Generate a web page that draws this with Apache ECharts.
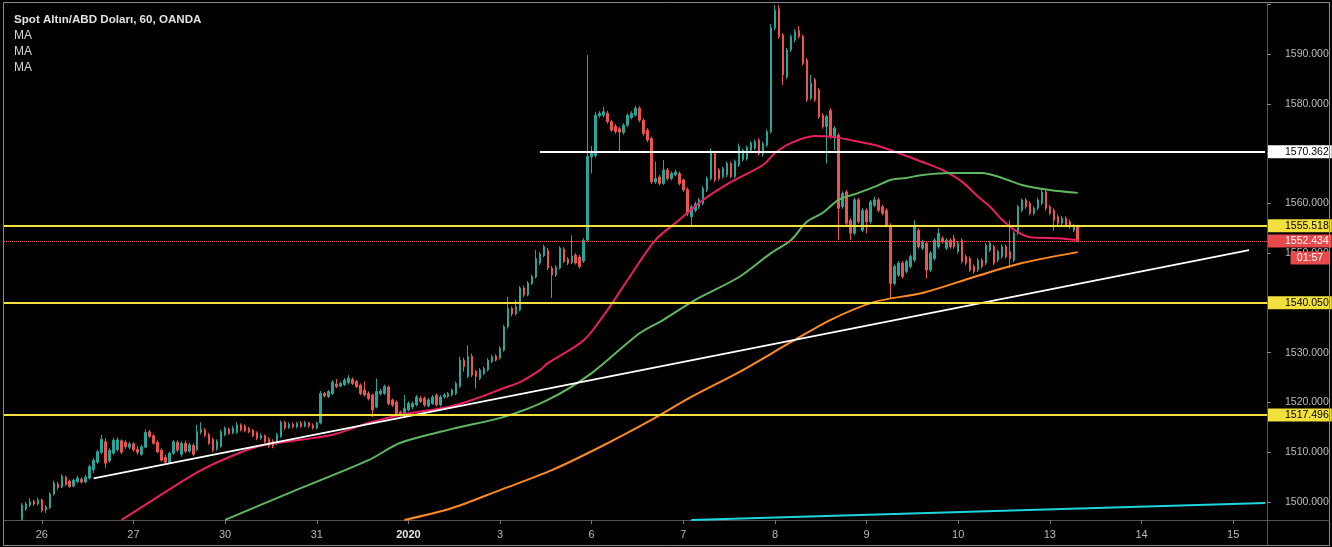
<!DOCTYPE html>
<html>
<head>
<meta charset="utf-8">
<script src="https://cdn.jsdelivr.net/npm/echarts@6/dist/echarts.min.js"></script>
<style>
html,body{margin:0;padding:0;background:#000;}
#chart{width:1332px;height:547px;}
</style>
</head>
<body>
<div id="chart"></div>
<script>
// ---- DATA ----
const SLOT_COUNT = 317;            // hourly slots on the time axis
const FIRST_CANDLE_SLOT = 4;
const DAY_LABELS = ['26','27','30','31','2020','3','6','7','8','9','10','13','14','15'];
const DAY_START_SLOTS = [9,32,55,78,101,124,147,170,193,216,239,262,285,308];

// [open, close, low, high]
const candles = [
[1496.5,1499.4,1496.3,1499.8],[1498.6,1499.6,1498.2,1500.0],[1499.4,1500.1,1499.0,1500.8],[1500.1,1499.6,1499.2,1500.5],
[1499.6,1500.4,1499.3,1500.9],[1500.4,1498.3,1497.9,1500.7],[1498.4,1499.0,1497.8,1499.4],[1498.9,1501.6,1498.6,1502.0],
[1501.6,1503.8,1501.3,1504.3],[1503.6,1502.9,1502.5,1504.0],[1503.0,1505.2,1502.8,1505.6],[1505.0,1503.5,1503.2,1505.3],
[1504.2,1503.1,1502.8,1504.5],[1503.2,1504.4,1503.0,1504.7],[1504.1,1504.8,1503.8,1505.3],[1504.6,1504.0,1503.7,1505.0],
[1504.0,1505.0,1503.8,1505.4],[1504.8,1507.1,1504.5,1507.5],[1506.5,1508.4,1505.8,1508.8],[1508.0,1510.1,1507.6,1510.5],
[1510.0,1512.6,1509.6,1513.5],[1512.1,1507.8,1506.8,1512.8],[1508.3,1510.4,1507.9,1510.8],[1509.8,1512.4,1509.5,1512.9],
[1510.5,1512.5,1510.2,1513.0],[1512.3,1510.0,1509.6,1512.6],[1512.0,1511.1,1510.7,1512.4],[1511.0,1511.7,1510.6,1512.1],
[1511.7,1510.5,1510.1,1512.0],[1510.6,1510.0,1509.5,1511.3],[1509.6,1511.1,1509.2,1511.5],[1511.0,1514.0,1510.8,1514.6],
[1514.1,1513.2,1512.9,1514.5],[1513.3,1511.8,1511.5,1513.6],[1512.0,1510.1,1509.8,1512.4],[1510.4,1508.4,1508.1,1510.8],
[1509.0,1508.0,1507.5,1509.5],[1508.0,1509.8,1507.7,1510.1],[1509.8,1512.1,1509.5,1512.5],[1512.0,1510.4,1510.0,1512.4],
[1509.6,1511.8,1509.1,1512.2],[1511.8,1510.2,1509.8,1512.3],[1510.2,1511.5,1509.9,1511.9],[1511.4,1509.6,1509.2,1511.8],
[1510.5,1514.1,1510.2,1515.5],[1514.0,1514.6,1513.6,1516.0],[1514.5,1513.4,1513.0,1514.9],[1513.5,1511.8,1511.5,1513.9],
[1512.6,1510.4,1510.0,1512.9],[1510.7,1512.2,1510.3,1512.6],[1511.2,1514.1,1510.9,1514.5],[1513.5,1514.8,1513.2,1515.2],
[1514.6,1513.8,1513.5,1515.0],[1513.9,1514.8,1513.6,1515.3],[1514.0,1515.5,1513.7,1516.0],[1515.5,1514.5,1514.2,1515.8],
[1515.2,1514.3,1514.0,1515.6],[1514.8,1514.1,1513.8,1515.1],[1514.4,1513.3,1513.0,1514.7],[1513.9,1512.8,1512.4,1514.2],
[1512.8,1513.4,1512.5,1513.8],[1513.3,1512.1,1511.8,1513.6],[1512.6,1511.3,1510.9,1513.0],[1512.2,1511.2,1510.8,1512.6],
[1511.8,1513.5,1511.4,1513.9],[1513.2,1516.0,1512.9,1516.4],[1516.0,1514.9,1514.5,1516.3],[1515.0,1515.6,1514.7,1516.0],
[1515.6,1515.1,1514.8,1516.0],[1515.1,1515.8,1514.8,1516.1],[1515.8,1515.2,1514.9,1516.2],[1515.2,1515.9,1515.0,1516.3],
[1515.9,1515.3,1514.9,1516.1],[1515.4,1514.9,1514.6,1515.8],[1514.9,1515.9,1514.6,1516.2],[1515.9,1521.8,1515.6,1522.3],
[1521.8,1521.3,1521.0,1522.1],[1521.2,1522.2,1520.9,1522.5],[1521.8,1524.1,1521.5,1524.5],[1523.7,1523.2,1522.9,1524.7],
[1523.3,1523.8,1523.0,1524.2],[1523.6,1524.5,1523.3,1524.9],[1524.0,1524.9,1523.6,1525.5],[1524.6,1523.8,1523.5,1525.0],
[1524.2,1523.2,1522.9,1524.5],[1523.5,1521.8,1521.5,1523.8],[1522.5,1521.5,1521.2,1524.2],[1521.8,1520.8,1520.4,1522.2],
[1521.5,1518.5,1517.1,1521.8],[1519.1,1522.2,1518.8,1524.8],[1521.8,1522.3,1521.4,1522.8],[1521.8,1523.2,1521.5,1523.6],
[1523.1,1519.8,1519.4,1523.4],[1520.5,1519.5,1519.1,1520.8],[1520.1,1517.8,1517.4,1520.4],[1518.1,1517.5,1517.1,1518.4],
[1517.5,1518.8,1517.1,1521.5],[1518.5,1519.8,1518.2,1520.2],[1519.1,1519.8,1518.7,1520.2],[1519.5,1521.1,1519.2,1521.5],
[1520.8,1520.2,1519.9,1521.3],[1520.8,1519.5,1519.1,1521.2],[1519.3,1520.5,1519.0,1520.9],[1519.8,1521.1,1519.5,1521.5],
[1521.5,1519.5,1519.2,1521.8],[1519.5,1521.1,1519.2,1521.5],[1521.1,1521.5,1520.8,1521.9],[1521.2,1521.8,1520.9,1522.1],
[1521.5,1522.5,1521.2,1522.8],[1521.8,1523.8,1521.5,1524.2],[1523.2,1528.5,1522.9,1529.2],[1528.5,1527.2,1526.2,1529.0],
[1525.2,1529.2,1524.9,1531.5],[1529.3,1525.5,1525.1,1529.8],[1526.2,1525.2,1522.8,1526.5],[1524.8,1526.5,1524.5,1526.9],
[1525.8,1526.8,1525.5,1527.2],[1526.5,1528.5,1526.2,1528.9],[1528.2,1529.2,1527.9,1529.6],[1529.3,1528.5,1528.2,1529.7],
[1528.9,1530.9,1528.6,1531.3],[1530.5,1535.2,1530.2,1535.6],[1535.2,1538.9,1534.8,1541.2],[1538.9,1537.8,1537.3,1539.3],
[1537.8,1539.2,1537.5,1540.6],[1538.6,1543.0,1538.3,1543.4],[1543.0,1541.6,1541.2,1543.5],[1541.6,1544.0,1541.3,1544.4],
[1543.9,1545.3,1543.6,1545.7],[1545.2,1548.9,1544.9,1550.6],[1548.0,1549.8,1547.6,1550.2],[1549.5,1551.3,1549.2,1551.7],
[1550.5,1547.0,1546.6,1551.0],[1547.0,1545.6,1541.0,1547.4],[1545.6,1547.2,1545.2,1547.6],[1547.0,1551.0,1546.7,1551.4],
[1550.8,1548.3,1548.0,1551.2],[1548.8,1548.0,1547.6,1549.2],[1548.1,1549.4,1547.8,1553.6],[1549.6,1548.0,1547.7,1550.0],
[1549.2,1547.3,1546.9,1549.6],[1548.4,1552.6,1548.0,1553.0],[1552.6,1569.4,1552.3,1589.8],[1569.3,1570.3,1566.0,1571.5],
[1569.6,1577.7,1569.2,1578.3],[1577.6,1578.1,1577.2,1578.5],[1577.7,1578.4,1577.3,1579.4],[1578.1,1576.4,1576.0,1578.6],
[1576.4,1574.7,1574.4,1576.8],[1575.5,1574.4,1574.0,1575.9],[1575.0,1574.3,1570.4,1575.4],[1574.2,1575.7,1573.8,1576.1],
[1575.7,1577.7,1575.3,1578.1],[1577.2,1578.1,1576.9,1578.5],[1577.7,1579.1,1577.4,1579.6],[1579.1,1576.7,1576.3,1579.5],
[1576.7,1574.0,1573.6,1577.1],[1574.7,1572.7,1572.3,1575.1],[1573.0,1564.3,1563.9,1573.4],[1564.3,1565.0,1563.9,1568.4],
[1565.3,1564.0,1563.6,1565.7],[1564.0,1566.7,1563.7,1568.7],[1566.7,1565.0,1564.6,1567.1],[1565.0,1566.0,1564.6,1566.4],
[1565.7,1566.3,1565.4,1566.8],[1566.0,1564.0,1563.6,1566.4],[1564.7,1562.7,1562.3,1565.0],[1562.8,1558.0,1557.4,1563.2],
[1557.3,1559.3,1555.3,1559.7],[1558.6,1559.9,1558.2,1560.3],[1559.3,1560.7,1558.9,1561.1],[1560.0,1563.0,1559.6,1563.4],
[1562.7,1565.0,1562.3,1565.4],[1565.0,1570.4,1564.6,1571.0],[1570.0,1564.7,1564.3,1570.4],[1566.7,1565.0,1564.6,1567.1],
[1565.4,1567.0,1565.0,1567.4],[1565.7,1568.0,1565.3,1568.4],[1568.0,1565.4,1565.0,1568.4],[1565.4,1568.4,1565.0,1568.8],
[1567.7,1571.4,1567.3,1572.0],[1568.8,1570.6,1568.4,1571.0],[1569.0,1571.2,1568.6,1571.6],[1570.7,1572.1,1570.3,1572.5],
[1571.1,1572.4,1570.7,1572.8],[1572.7,1570.0,1569.6,1573.1],[1570.0,1572.0,1569.4,1572.4],[1571.7,1574.4,1571.3,1574.8],
[1574.4,1595.2,1574.0,1596.0],[1595.2,1598.8,1594.8,1599.8],[1599.1,1593.5,1593.1,1599.8],[1593.8,1585.8,1583.8,1594.2],
[1585.4,1590.8,1585.0,1591.2],[1590.8,1593.5,1590.4,1593.9],[1592.8,1594.5,1592.4,1595.0],[1594.7,1593.5,1593.1,1595.6],
[1593.5,1588.1,1587.7,1593.9],[1588.8,1580.8,1580.4,1589.2],[1581.1,1584.1,1580.7,1585.8],[1584.8,1580.8,1580.4,1585.2],
[1582.8,1577.4,1577.0,1583.2],[1577.7,1575.4,1575.0,1578.1],[1575.4,1577.4,1568.0,1577.8],[1578.7,1573.4,1573.0,1579.1],
[1573.4,1575.1,1570.7,1575.5],[1573.7,1559.0,1552.6,1574.1],[1559.3,1562.0,1558.9,1562.4],[1562.3,1556.0,1555.6,1562.7],
[1556.6,1554.0,1552.6,1557.0],[1554.0,1560.7,1553.6,1561.1],[1560.7,1556.3,1555.9,1561.1],[1554.6,1558.6,1554.2,1559.0],
[1558.6,1556.3,1554.0,1559.0],[1556.3,1560.3,1555.9,1560.7],[1559.6,1560.7,1559.2,1561.3],[1560.7,1558.6,1558.2,1561.1],
[1559.3,1558.0,1557.6,1559.7],[1558.6,1555.6,1555.2,1559.0],[1555.6,1543.9,1540.9,1556.0],[1543.9,1547.3,1543.5,1547.7],
[1545.6,1548.0,1545.2,1548.4],[1548.0,1545.3,1544.9,1548.4],[1546.3,1548.3,1545.9,1548.7],[1547.3,1549.3,1546.9,1549.7],
[1548.6,1555.3,1548.2,1556.6],[1554.6,1551.3,1550.9,1555.0],[1551.0,1552.3,1550.6,1552.7],[1552.0,1546.6,1544.9,1552.4],
[1546.6,1550.0,1546.2,1550.4],[1548.9,1552.6,1548.5,1553.0],[1551.3,1554.0,1550.9,1555.0],[1553.0,1552.3,1551.9,1553.4],
[1551.0,1552.6,1550.6,1553.0],[1552.6,1551.3,1550.9,1553.0],[1553.0,1551.3,1550.9,1553.7],[1550.3,1552.0,1549.9,1552.4],
[1552.6,1548.3,1547.9,1553.0],[1549.3,1548.0,1547.6,1549.7],[1548.9,1546.6,1546.2,1549.3],[1547.3,1546.3,1545.9,1547.7],
[1546.6,1548.6,1546.2,1549.0],[1548.6,1547.3,1546.9,1549.0],[1548.0,1551.6,1547.6,1552.0],[1550.6,1552.0,1550.2,1552.4],
[1551.3,1548.0,1547.6,1551.7],[1548.6,1550.3,1548.2,1550.7],[1549.3,1551.3,1548.9,1551.7],[1551.3,1549.3,1548.9,1551.7],
[1550.3,1548.9,1547.0,1556.6],[1548.6,1554.0,1548.2,1554.4],[1554.0,1559.3,1553.6,1559.7],[1558.6,1560.7,1558.2,1561.0],
[1560.7,1559.3,1558.9,1561.1],[1560.0,1558.0,1557.6,1560.4],[1558.0,1559.0,1557.6,1559.4],[1559.0,1560.7,1558.6,1561.1],
[1560.0,1562.3,1559.6,1563.0],[1562.3,1559.0,1558.6,1562.7],[1559.3,1558.0,1557.6,1559.7],[1558.6,1556.6,1554.5,1559.0],
[1557.3,1556.0,1555.6,1557.7],[1556.0,1557.0,1555.6,1557.4],[1557.0,1555.6,1555.2,1557.4],[1556.3,1555.3,1554.9,1556.7],
[1554.6,1555.5,1554.2,1555.9],[1555.3,1552.434,1552.2,1555.7]
];

// moving averages: [slot, value]
const maPink = [[29,1496.4],[38,1501.0],[49,1506.4],[59,1510.0],[65,1511.5],[74,1512.5],[82,1513.5],[91,1515.9],[99,1517.5],[111,1519.1],[117,1520.5],[125,1522.9],[129,1524.1],[134,1526.5],[136,1527.9],[145,1532.5],[151,1538.6],[156,1544.6],[163,1552.6],[169,1556.7],[175,1560.7],[182,1564.3],[190,1567.7],[193,1570.1],[197,1572.1],[203,1573.5],[208,1573.3],[212,1572.7],[218,1571.7],[224,1570.1],[230,1568.3],[235,1566.7],[240,1564.3],[244,1561.3],[247,1559.3],[250,1556.7],[254,1554.2],[257,1553.2],[264,1553.0],[269,1552.6]];
const maGreen = [[55,1496.4],[71,1501.8],[91,1508.4],[99,1511.9],[112,1514.7],[125,1517.1],[136,1520.5],[147,1525.9],[159,1533.9],[165,1536.6],[173,1540.6],[184,1545.2],[192,1550.0],[197,1552.6],[201,1556.3],[205,1558.1],[209,1560.7],[214,1562.1],[218,1563.3],[222,1564.7],[226,1565.1],[230,1565.7],[237,1566.1],[245,1566.1],[250,1565.1],[255,1563.7],[262,1562.7],[269,1562.1]];
const maOrange = [[100,1496.4],[112,1498.8],[124,1502.4],[137,1506.4],[149,1511.0],[162,1516.5],[172,1521.1],[184,1526.1],[197,1532.1],[207,1536.6],[218,1540.2],[230,1542.0],[243,1545.2],[255,1548.0],[269,1550.2]];

// drawn trend lines: [slot, price]
const trendWhite = [[22,1504.75],[312,1550.6]];
const trendCyan = [[172,1496.4],[316,1499.8]];

// horizontal levels
const yellowLevels = [1555.518, 1540.050, 1517.496];
const whiteLevel = {fromSlot: 134, price: 1570.362};
const lastPrice = 1552.434;
const countdown = '01:57';

const Y_MIN = 1496.39, Y_MAX = 1600.04;
const TITLE = 'Spot Altın/ABD Doları, 60, OANDA';
const MA_LABELS = ['MA','MA','MA'];

// ---- CHART ----
const FONT = 'Liberation Sans';
const categories = Array.from({length: SLOT_COUNT}, (_, i) => 'h' + i);
const labelAt = {};
DAY_START_SLOTS.forEach((s, k) => { labelAt[s] = DAY_LABELS[k]; });
const candleData = candles.map((c, i) => [FIRST_CANDLE_SLOT + i, c[0], c[1], c[2], c[3]]);

const tagBase = {show: true, position: 'end', distance: 1, fontFamily: FONT, fontSize: 10.5,
  lineHeight: 11, padding: [1, 3, 1, 17]};

const markData = [];
yellowLevels.forEach(v => markData.push({
  yAxis: v, lineStyle: {color: '#f2e03c', width: 2, type: 'solid'},
  label: Object.assign({}, tagBase, {formatter: v.toFixed(3), backgroundColor: '#f2e03c', color: '#000'})
}));
markData.push([
  {coord: [whiteLevel.fromSlot, whiteLevel.price], lineStyle: {color: '#ffffff', width: 2, type: 'solid'},
   label: Object.assign({}, tagBase, {formatter: whiteLevel.price.toFixed(3), backgroundColor: '#ffffff', color: '#000', distance: 3})},
  {coord: [SLOT_COUNT - 1, whiteLevel.price]}
]);
markData.push({
  yAxis: lastPrice, lineStyle: {color: '#ef5350', width: 1, type: 'dotted'},
  label: Object.assign({}, tagBase, {formatter: lastPrice.toFixed(3), backgroundColor: '#e8494a', color: '#fff'})
});

function lineSeries(data, color, width, smooth) {
  return {type: 'line', data: data, showSymbol: false, symbol: 'none', smooth: smooth,
    lineStyle: {color: color, width: width}, silent: true, z: 3, animation: false};
}

const chart = echarts.init(document.getElementById('chart'), null, {renderer: 'canvas'});
chart.setOption({
  backgroundColor: '#000',
  animation: false,
  textStyle: {fontFamily: FONT},
  title: {
    left: 14, top: 12, padding: 0,
    text: '{b|' + TITLE + '}\n' + MA_LABELS.map(t => '{n|' + t + '}').join('\n'),
    textStyle: {fontWeight: 'normal', rich: {
      b: {fontFamily: FONT, fontSize: 11.6, fontWeight: 'bold', color: '#e2e2e2', lineHeight: 16},
      n: {fontFamily: FONT, fontSize: 12, fontWeight: 'normal', color: '#d6d6d6', lineHeight: 16}
    }}
  },
  graphic: [
    {type: 'rect', silent: true, z: 100, shape: {x: 3.5, y: 2.5, width: 1326, height: 543},
     style: {fill: null, stroke: '#8a8a8a', lineWidth: 1}},
    {type: 'line', silent: true, z: 100, shape: {x1: 1267, y1: 520.5, x2: 1330, y2: 520.5},
     style: {stroke: '#555', lineWidth: 1}},
    {type: 'line', silent: true, z: 100, shape: {x1: 1267.5, y1: 520, x2: 1267.5, y2: 545},
     style: {stroke: '#555', lineWidth: 1}}
  ],
  grid: {left: 4, right: 65, top: 4, bottom: 27, containLabel: false, outerBoundsMode: 'none'},
  xAxis: {
    type: 'category', data: categories, boundaryGap: true,
    axisLine: {show: true, lineStyle: {color: '#555'}},
    axisTick: {show: true, alignWithLabel: true, length: 4, lineStyle: {color: '#777'},
      interval: (i) => labelAt[i] !== undefined},
    axisLabel: {show: true, color: '#b8b8b8', fontSize: 11, margin: 9,
      interval: (i) => labelAt[i] !== undefined,
      formatter: (v, i) => labelAt[i] === '2020' ? '{y|2020}' : (labelAt[i] || ''),
      rich: {y: {fontWeight: 'bold', color: '#e6e6e6', fontSize: 11, fontFamily: FONT}}},
    splitLine: {show: false}
  },
  yAxis: {
    type: 'value', position: 'right', min: Y_MIN, max: Y_MAX, splitNumber: 10, scale: true,
    axisLine: {show: true, lineStyle: {color: '#555'}},
    axisTick: {show: true, length: 4, lineStyle: {color: '#888'}},
    axisLabel: {color: '#bcbcbc', fontSize: 10.5, margin: 18, showMinLabel: false, showMaxLabel: false,
      formatter: v => (v >= 1499 && v <= 1595) ? v.toFixed(3) : ''},
    splitLine: {show: false}
  },
  series: [
    {
      type: 'candlestick', data: candleData, encode: {x: 0, y: [1, 2, 3, 4]},
      barWidth: 2, clip: false, silent: true, z: 2,
      itemStyle: {color: '#26a69a', color0: '#ef5350', borderColor: '#26a69a', borderColor0: '#ef5350', borderWidth: 1},
      markLine: {symbol: 'none', silent: true, animation: false, data: markData},
      markPoint: {silent: true, animation: false, data: [{
        coord: [SLOT_COUNT - 1, lastPrice], symbol: 'rect', symbolSize: [39, 13], symbolOffset: [45, 17],
        itemStyle: {color: '#e8494a'},
        label: {show: true, position: 'inside', formatter: countdown, color: '#fff', fontFamily: FONT, fontSize: 10.5}
      }]}
    },
    lineSeries(maPink, '#e91e63', 2, 0.3),
    lineSeries(maGreen, '#5fb760', 2, 0.3),
    lineSeries(maOrange, '#ff8a1f', 2, 0.3),
    lineSeries(trendWhite, '#ffffff', 2, false),
    lineSeries(trendCyan, '#1ed6e0', 2, false)
  ]
});
</script>
</body>
</html>
